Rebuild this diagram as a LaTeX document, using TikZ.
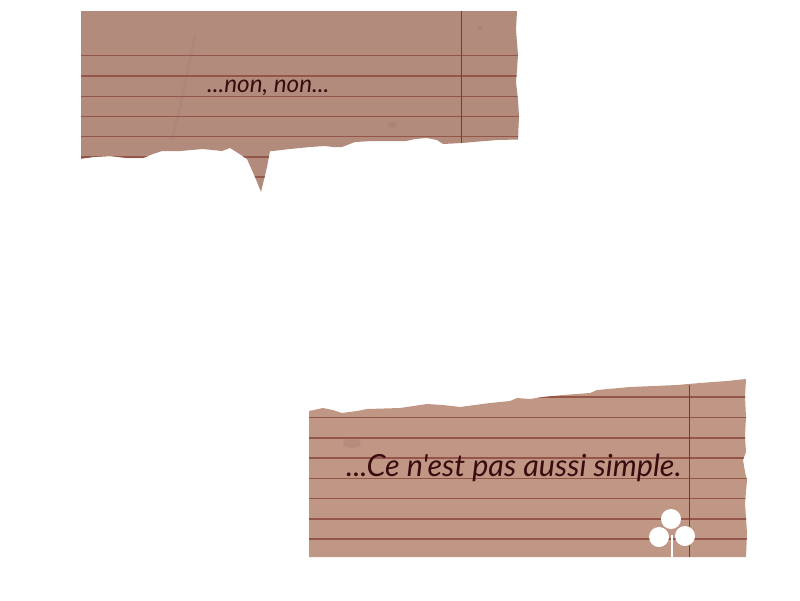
\documentclass[tikz,border=0pt]{standalone}
\usepackage{fontspec}
\newfontfamily\handfont{Lato}
\usetikzlibrary{positioning}
\definecolor{paperA}{HTML}{B38B7C}
\definecolor{paperB}{HTML}{C09684}
\definecolor{ruleline}{HTML}{95564A}
\definecolor{marginline}{HTML}{5E4640}
\definecolor{stain}{HTML}{8A6658}
\definecolor{inktext}{HTML}{3A0C10}
\tikzset{
  ruled/.style={color=ruleline,line width=1.4pt},
  margin/.style={color=marginline,line width=1pt},
  spot/.style={fill=stain,fill opacity=.18,draw=none},
  crease/.style={color=stain,opacity=.12,line width=2.5pt},
  handtext/.style={text=inktext,inner sep=0pt,anchor=west},
}
\def\sheetone{(81,11) -- (517,11) -- (516,30) -- (518,55) -- (517,70) -- (516,82) -- (518,100) -- (519,116) -- (518,139.5)
  -- (498,140) -- (473,142) -- (462,143) -- (443,144) -- (437,140) -- (427,138) -- (415,139) -- (406,141) -- (392,141)
  -- (373,141) -- (355,142) -- (342,147) -- (333,147) -- (325,146) -- (310,147) -- (290,149) -- (273,151) -- (270,151)
  -- (267,167) -- (261,192) -- (255,177) -- (247,159) -- (238,153) -- (230,148) -- (222,151) -- (203,149) -- (180,151)
  -- (162,151) -- (153,154) -- (143,158) -- (127,158) -- (110,156) -- (93,157) -- (81,159) -- cycle}
\def\sheettwo{(309,411) -- (323,408) -- (333,410) -- (342,413) -- (357,411) -- (367,409) -- (400,408) -- (427,404) -- (443,405)
  -- (460,407) -- (490,403) -- (510,401) -- (517,398) -- (530,399) -- (543,397) -- (563,395) -- (590,393) -- (597,390)
  -- (630,387) -- (677,385) -- (700,383) -- (727,381) -- (746,379) -- (745,397) -- (746,417) -- (745,437) -- (746,452)
  -- (743,460) -- (745,472) -- (747,480) -- (745,503) -- (747,533) -- (746,557) -- (309,557) -- cycle}
\begin{document}
\begin{tikzpicture}[x=1pt,y=-1pt]
\useasboundingbox (0,0) rectangle (800,600);
% upper sheet
\begin{scope}
\clip \sheetone;
\fill[paperA] (60,0) rectangle (530,200);
\foreach \y in {55.7,76,96.5,116.5,136.5,157,177}
  \draw[ruled] (81,\y) -- (520,\y);
\draw[margin] (461.7,11) -- (461.7,143);
\fill[spot] (480,28) circle (2.5pt);
\fill[spot] (392,125) ellipse (5pt and 3pt);
\draw[crease] (195,35) .. controls (188,70) and (182,100) .. (172,140);
\end{scope}
% lower sheet
\begin{scope}
\clip \sheettwo;
\fill[paperB] (300,370) rectangle (750,560);
\foreach \y in {397,417.7,438,458,478.5,498.7,519,539}
  \draw[ruled] (309,\y) -- (750,\y);
\draw[margin] (689,385) -- (689,557);
\fill[spot] (352,443) ellipse (9pt and 5pt);
\end{scope}
% clover
\fill[white] (671,519) circle (10pt);
\fill[white] (659,537) circle (10pt);
\fill[white] (685,536) circle (10pt);
\fill[white] (671,535) rectangle (673,557);
\node[handtext,font=\handfont\itshape\fontsize{24.3}{24}\selectfont] (tearA) at (207,88) {...non, non...};
\node[handtext,font=\handfont\itshape\fontsize{30.5}{31}\selectfont] (tearB) at (346,468) {...Ce n'est pas aussi simple.};
\end{tikzpicture}
\end{document}
